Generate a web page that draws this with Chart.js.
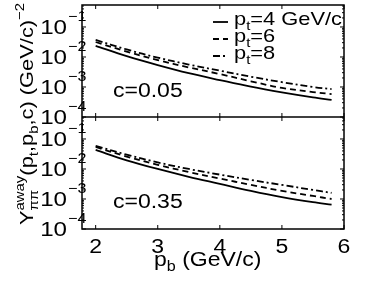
<!DOCTYPE html>
<html>
<head>
<meta charset="utf-8">
<script src="https://cdn.jsdelivr.net/npm/chart.js@4.4.1/dist/chart.umd.min.js"></script>
<style>
  html, body { margin: 0; padding: 0; background: #fff; }
  #wrap { position: relative; width: 374px; height: 281px; }
</style>
</head>
<body>
<div id="wrap"><canvas id="yieldChart" width="374" height="281"></canvas></div>
<script>
const pbValues = [2.0, 2.5, 3.0, 3.5, 4.0, 4.5, 5.0, 5.5, 5.8];

// upper panel, c = 0.05
const topPt4 = [0.0234, 0.0107, 0.0054, 0.0029, 0.0017, 0.00102, 0.00066, 0.00045, 0.00037];
const topPt6 = [0.0316, 0.0151, 0.0079, 0.0045, 0.0027, 0.00155, 0.00093, 0.00068, 0.00058];
const topPt8 = [0.037, 0.0178, 0.0095, 0.0056, 0.0035, 0.0022, 0.00145, 0.001, 0.00085];

// lower panel, c = 0.35
const botPt4 = [0.043, 0.0195, 0.010, 0.0055, 0.0032, 0.00186, 0.00115, 0.00078, 0.00065];
const botPt6 = [0.054, 0.026, 0.0138, 0.0079, 0.0048, 0.00295, 0.00186, 0.00126, 0.001];
const botPt8 = [0.059, 0.030, 0.0166, 0.010, 0.0065, 0.0043, 0.00295, 0.002, 0.0016];

const legendLabels = ['=4 GeV/c', '=6', '=8'];
const panelLabels = ['c=0.05', 'c=0.35'];
const xTicks = [2, 3, 4, 5, 6];
const yExponents = [-1, -2, -3, -4];

const dashes = [[], [6, 4], [7, 3, 2, 3]];
const FONT = '"Liberation Sans", Arial, sans-serif';
const SX = 1.15; // text in the figure is a bit wide

function toPoints(ys) {
  return pbValues.map((x, i) => ({ x: x, y: ys[i] }));
}

function makeSet(label, ys, axis, k) {
  return {
    label: label,
    data: toPoints(ys),
    yAxisID: axis,
    borderColor: '#000',
    borderWidth: 1.8,
    borderDash: dashes[k],
    pointRadius: 0,
    fill: false,
    tension: 0.35
  };
}

// draws a string stretched horizontally, returns its width
function wide(ctx, s, x, y, size, align) {
  ctx.font = size + 'px ' + FONT;
  const w = ctx.measureText(s).width * SX;
  let x0 = x;
  if (align === 'right') x0 = x - w;
  if (align === 'center') x0 = x - w / 2;
  ctx.save();
  ctx.translate(x0, y);
  ctx.scale(SX, 1);
  ctx.textAlign = 'left';
  ctx.textBaseline = 'alphabetic';
  ctx.fillText(s, 0, 0);
  ctx.restore();
  return w;
}

// segments: [text, size, dy] ; an array of segments in a slot = stacked sup/sub
function rich(ctx, segs, x, y, measureOnly) {
  let cx = x;
  for (const seg of segs) {
    if (Array.isArray(seg[0])) {
      let wmax = 0;
      for (const s of seg) {
        ctx.font = s[1] + 'px ' + FONT;
        const w = ctx.measureText(s[0]).width * SX;
        if (!measureOnly) wide(ctx, s[0], cx, y + s[2], s[1]);
        wmax = Math.max(wmax, w);
      }
      cx += wmax;
    } else {
      ctx.font = seg[1] + 'px ' + FONT;
      const w = ctx.measureText(seg[0]).width * SX;
      if (!measureOnly) wide(ctx, seg[0], cx, y + seg[2], seg[1]);
      cx += w;
    }
  }
  return cx - x;
}

const decor = {
  id: 'decor',
  afterDraw(chart) {
    const { ctx, chartArea: a, scales } = chart;
    const xs = scales.x;
    const panels = [scales.yTop, scales.yBot];
    ctx.save();
    ctx.fillStyle = '#000';
    ctx.strokeStyle = '#000';

    // frames
    ctx.lineWidth = 1.5;
    ctx.strokeRect(a.left, a.top, a.right - a.left, a.bottom - a.top);
    ctx.beginPath();
    ctx.moveTo(a.left, scales.yBot.top);
    ctx.lineTo(a.right, scales.yBot.top);
    ctx.stroke();

    // ticks, pointing inwards
    ctx.lineWidth = 1;
    ctx.beginPath();
    panels.forEach(ys => {
      xTicks.forEach(v => {
        const px = xs.getPixelForValue(v);
        ctx.moveTo(px, ys.bottom); ctx.lineTo(px, ys.bottom - 4);
        ctx.moveTo(px, ys.top); ctx.lineTo(px, ys.top + 4);
      });
      for (let e = -4; e <= 0; e++) {
        for (let m = 1; m <= 9; m++) {
          const v = m * Math.pow(10, e);
          if (v < ys.min || v > ys.max) continue;
          const py = ys.getPixelForValue(v);
          const len = m === 1 ? 4 : 2;
          ctx.moveTo(a.left, py); ctx.lineTo(a.left + len, py);
          ctx.moveTo(a.right, py); ctx.lineTo(a.right - len, py);
        }
      }
    });
    ctx.stroke();

    // y tick labels 10^n
    panels.forEach(ys => {
      yExponents.forEach(n => {
        const py = ys.getPixelForValue(Math.pow(10, n));
        wide(ctx, '10', 67, py + 7, 21, 'right');
        wide(ctx, '\u2212' + Math.abs(n), 68, py - 6, 14);
      });
    });

    // x tick labels
    xTicks.forEach(v => {
      wide(ctx, String(v), xs.getPixelForValue(v), 253, 20, 'center');
    });

    // panel annotations
    wide(ctx, panelLabels[0], 113, scales.yTop.top + 92, 20);
    wide(ctx, panelLabels[1], 113, scales.yBot.top + 91, 20);

    // legend
    const rowBase = [25, 42, 59];
    legendLabels.forEach((lab, k) => {
      const by = rowBase[k];
      ctx.save();
      ctx.lineWidth = 1.8;
      ctx.setLineDash(dashes[k]);
      ctx.beginPath();
      ctx.moveTo(213, by - 3);
      ctx.lineTo(228, by - 3);
      ctx.stroke();
      ctx.restore();
      rich(ctx, [['p', 19, 0], ['t', 13, 5], [lab, 19, 0]], 234, by);
    });

    // x title
    rich(ctx, [['p', 20, 0], ['b', 14, 5], [' (GeV/c)', 20, 0]], 154, 266);

    // y title, rotated
    const ySegs = [
      ['Y', 19, 0],
      [['away', 13, -9], ['\u03c0\u03c0', 13, 5]],
      ['(p', 19, 0], ['t', 13, 5], [',p', 19, 0], ['b', 13, 5],
      [',c) (GeV/c)', 19, 0], ['\u22122', 13, -9]
    ];
    const W = rich(ctx, ySegs, 0, 0, true);
    ctx.save();
    ctx.translate(33, 114 + W / 2);
    ctx.rotate(-Math.PI / 2);
    rich(ctx, ySegs, 0, 0);
    ctx.restore();

    ctx.restore();
  }
};

const yScale = {
  type: 'logarithmic',
  min: 1e-4,
  max: 0.54,
  display: false,
  stack: 'panels',
  stackWeight: 1
};

new Chart(document.getElementById('yieldChart'), {
  type: 'line',
  data: {
    datasets: [
      makeSet('pt=4 c=0.35', botPt4, 'yBot', 0),
      makeSet('pt=6 c=0.35', botPt6, 'yBot', 1),
      makeSet('pt=8 c=0.35', botPt8, 'yBot', 2),
      makeSet('pt=4 c=0.05', topPt4, 'yTop', 0),
      makeSet('pt=6 c=0.05', topPt6, 'yTop', 1),
      makeSet('pt=8 c=0.05', topPt8, 'yTop', 2)
    ]
  },
  options: {
    responsive: false,
    animation: false,
    devicePixelRatio: 1,
    layout: { padding: { left: 82, right: 30, top: 5, bottom: 52 } },
    scales: {
      x: { type: 'linear', min: 1.78, max: 6, display: false },
      yBot: Object.assign({}, yScale),
      yTop: Object.assign({}, yScale)
    },
    plugins: { legend: { display: false }, tooltip: { enabled: false } }
  },
  plugins: [decor]
});
</script>
</body>
</html>
